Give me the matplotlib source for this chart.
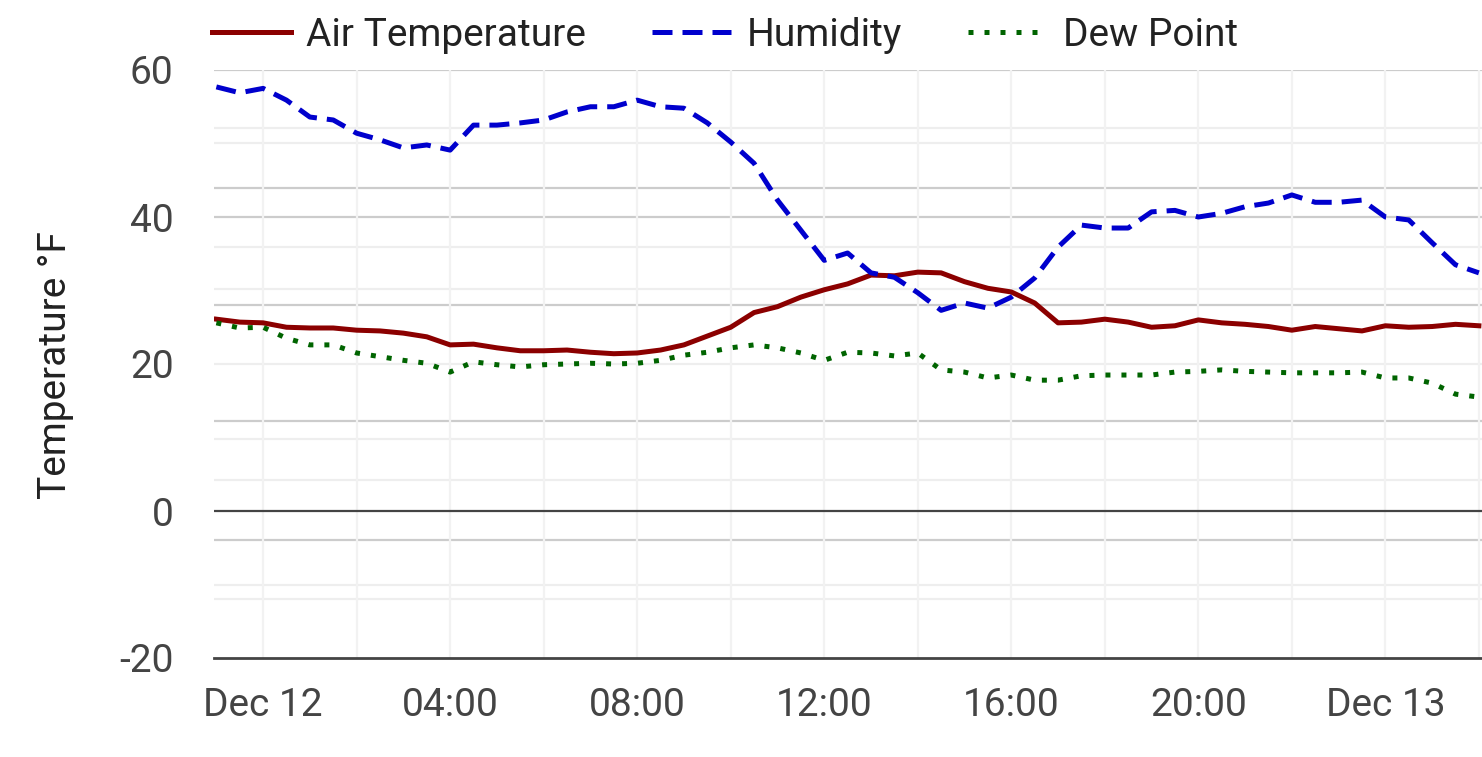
import matplotlib
matplotlib.use("Agg")
import matplotlib.pyplot as plt
import matplotlib.dates as mdates
import pandas as pd

plt.rcParams["font.family"] = ["Roboto", "DejaVu Sans"]

# readings every 30 min, Dec 11 23:00 -> Dec 13 02:00
times = pd.date_range("2023-12-11 23:00", "2023-12-13 02:00", freq="30min")

air_temp = [26.1, 25.7, 25.6, 25.0, 24.9, 24.9, 24.6, 24.5, 24.2, 23.7, 22.6,
            22.7, 22.2, 21.8, 21.8, 21.9, 21.6, 21.4, 21.5, 21.9, 22.6, 23.8,
            25.0, 27.0, 27.8, 29.1, 30.1, 30.9, 32.1, 32.0, 32.5, 32.4, 31.2,
            30.3, 29.8, 28.3, 25.6, 25.7, 26.1, 25.7, 25.0, 25.2, 26.0, 25.6,
            25.4, 25.1, 24.6, 25.1, 24.8, 24.5, 25.2, 25.0, 25.1, 25.4, 25.2]
humidity = [57.7, 56.9, 57.5, 55.9, 53.6, 53.2, 51.4, 50.5, 49.4, 49.8, 49.1,
            52.5, 52.5, 52.8, 53.2, 54.3, 55.0, 55.0, 55.9, 55.0, 54.8, 52.8,
            50.2, 47.3, 42.3, 38.2, 34.1, 35.1, 32.4, 31.8, 29.7, 27.3, 28.3,
            27.6, 29.1, 31.7, 35.9, 38.9, 38.5, 38.5, 40.7, 40.9, 40.0, 40.5,
            41.4, 41.9, 43.0, 42.0, 42.0, 42.3, 40.0, 39.6, 36.5, 33.5, 32.4]
dew_point = [25.6, 24.9, 25.0, 23.5, 22.6, 22.6, 21.5, 21.0, 20.5, 20.1, 18.9,
             20.3, 19.9, 19.6, 19.9, 20.0, 20.1, 20.0, 20.1, 20.5, 21.2, 21.6,
             22.2, 22.6, 22.2, 21.5, 20.5, 21.6, 21.5, 21.1, 21.5, 19.2, 18.9,
             18.1, 18.5, 17.8, 17.8, 18.4, 18.5, 18.5, 18.5, 18.9, 19.0, 19.2,
             19.0, 18.9, 18.8, 18.8, 18.8, 18.9, 18.1, 18.1, 17.4, 15.9, 15.5]

y_ticks = [-20, 0, 20, 40, 60]
# grid levels left behind by the hidden secondary axes
grid_dark = [60, 44, 40, 28, 12.2, -4]
grid_light = [52.1, 50.1, 35.9, 30.2, 20, 9.8, 4.2, -10.1, -12]

fig = plt.figure(figsize=(14.82, 7.57), dpi=100)
ax = fig.add_axes([214 / 1482, 99 / 757, 1268 / 1482, 588 / 757])

for g in grid_light:
    ax.axhline(g, color="#eeeeee", linewidth=1.6, zorder=0)
for g in grid_dark:
    ax.axhline(g, color="#cccccc", linewidth=1.6, zorder=0)
ax.axhline(0, color="#444444", linewidth=1.6, zorder=1)
ax.axhline(-20, color="#444444", linewidth=2.0, zorder=1, clip_on=False)

ax.plot(times, air_temp, color="darkred", linewidth=3.6, label="Air Temperature",
        zorder=3)
ax.plot(times, humidity, color="mediumblue", linewidth=3.6,
        linestyle=(0, (4.0, 2.0)), label="Humidity", zorder=3)
ax.plot(times, dew_point, color="darkgreen", linewidth=3.6,
        linestyle=(0, (1, 2.2)), label="Dew Point", zorder=3)

ax.set_xlim(pd.Timestamp("2023-12-11 22:57"), pd.Timestamp("2023-12-13 02:04"))
ax.set_ylim(-20, 60)
ax.set_yticks(y_ticks)
ax.set_yticklabels([str(v) for v in y_ticks])

ax.xaxis.set_major_locator(mdates.HourLocator(byhour=range(0, 24, 4)))
ax.xaxis.set_minor_locator(mdates.HourLocator(byhour=range(0, 24, 2)))


def fmt_time(x, pos=None):
    d = mdates.num2date(x)
    if d.hour == 0 and d.minute == 0:
        return d.strftime("%b %d").replace(" 0", " ")
    return d.strftime("%H:%M")


ax.xaxis.set_major_formatter(plt.FuncFormatter(fmt_time))
ax.grid(which="minor", axis="x", color="#f2f2f2", linewidth=1.6, zorder=0)
ax.grid(which="major", axis="x", color="#f2f2f2", linewidth=1.6, zorder=0)
ax.set_axisbelow(True)

for s in ax.spines.values():
    s.set_visible(False)
ax.tick_params(axis="both", which="both", length=0, labelsize=28,
               labelcolor="#444444")
ax.tick_params(axis="x", pad=21)
ax.tick_params(axis="y", pad=29)

fig.text(55 / 1482, 1 - 365 / 757, "Temperature °F", rotation=90, ha="center",
         va="center", fontsize=28, color="#222222")

ax.legend(loc="center left", bbox_to_anchor=(212 / 1482, 1 - 35 / 757),
          bbox_transform=fig.transFigure, ncol=3, frameon=False, fontsize=28,
          handlelength=2.03, handletextpad=0.40, columnspacing=1.70,
          borderpad=0, borderaxespad=0, labelcolor="#222222")

fig.savefig("out.png", dpi=100)
